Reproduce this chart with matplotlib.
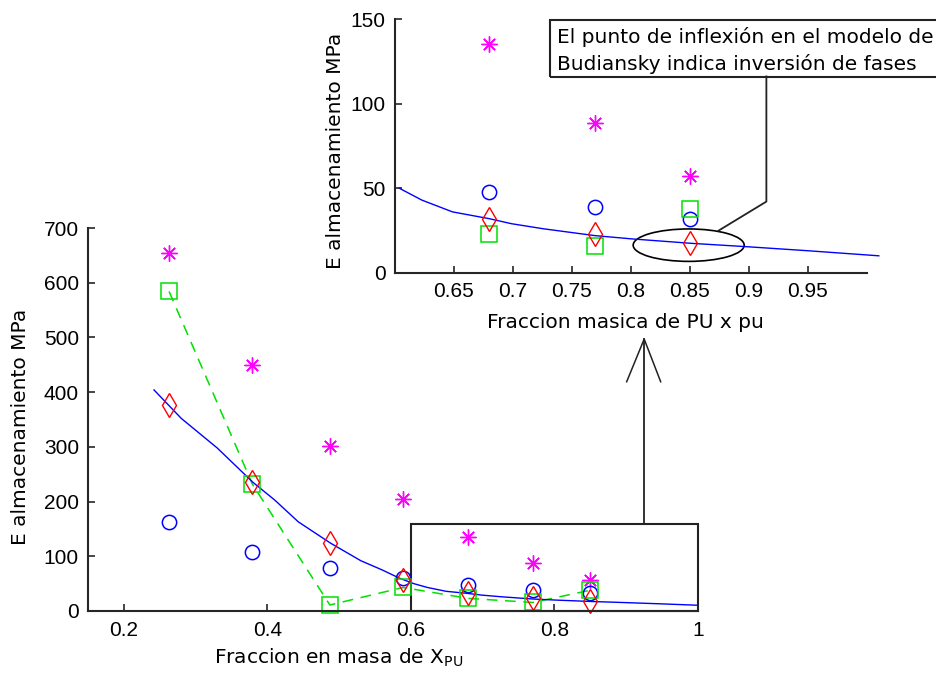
import matplotlib.pyplot as plt
from matplotlib.patches import Rectangle, Ellipse

plt.rcParams['font.family'] = ['DejaVu Sans']

# mass fraction of PU for each sample
x_frac = [0.263, 0.379, 0.487, 0.589, 0.68, 0.77, 0.85]

# storage modulus (MPa) for the different estimates
e_star = [655, 449, 301, 204, 135.5, 88.5, 57.5]
e_circle = [163, 107, 79, 61, 48, 39, 32]
e_square = [584, 232, 11, 43, 23, 15.6, 38]
e_diamond = [377, 236, 124, 57, 32, 23, 17.6]

# Budiansky model curve
model_x = [0.242, 0.28, 0.33, 0.38, 0.41, 0.443, 0.488, 0.53, 0.56, 0.584,
           0.604, 0.623, 0.649, 0.68, 0.699, 0.726, 0.769, 0.801, 0.851,
           0.898, 0.95, 1.01]
model_y = [404, 352, 298, 235, 203, 163, 124, 92, 75, 60,
           50, 43, 36, 32, 29, 26, 22, 20, 17.4,
           15.4, 13, 10]

main_xticks = [0.2, 0.4, 0.6, 0.8, 1.0]
main_xlabels = ['0.2', '0.4', '0.6', '0.8', '1']
main_yticks = [0, 100, 200, 300, 400, 500, 600, 700]
ins_xticks = [0.65, 0.7, 0.75, 0.8, 0.85, 0.9, 0.95]
ins_xlabels = ['0.65', '0.7', '0.75', '0.8', '0.85', '0.9', '0.95']
ins_yticks = [0, 50, 100, 150]

W, H = 937, 677
fig = plt.figure(figsize=(W / 100, H / 100), dpi=100)


def px_box(left, top, right, bottom):
    return [left / W, 1 - bottom / H, (right - left) / W, (bottom - top) / H]


TICK_FONT = dict(fontfamily='Liberation Sans', fontsize=15)
AX_COLOR = '#262626'


def style_axes(a):
    for s in ('top', 'right'):
        a.spines[s].set_visible(False)
    for s in ('left', 'bottom'):
        a.spines[s].set_linewidth(1.5)
        a.spines[s].set_color(AX_COLOR)
    a.tick_params(direction='in', length=5, width=1.2, color=AX_COLOR)
    a.tick_params(axis='x', pad=7.0)
    a.tick_params(axis='y', pad=6.5)
    a.set_facecolor('none')


def draw_points(a, xmin):
    keep = [i for i, x in enumerate(x_frac) if x >= xmin]
    xs = [x_frac[i] for i in keep]
    a.plot(xs, [e_star[i] for i in keep], ls='none', marker=(8, 2, 0),
           ms=11.5, mew=1.0, color='#ff00ff', clip_on=False)
    a.plot(xs, [e_circle[i] for i in keep], ls='none', marker='o', ms=10.3,
           mew=1.1, mfc='none', mec='#0000ff', clip_on=False)
    a.plot(xs, [e_square[i] for i in keep], ls='none', marker='s', ms=11,
           mew=1.1, mfc='none', mec='#00e000', clip_on=False)
    a.plot(xs, [e_diamond[i] for i in keep], ls='none', marker='d', ms=12,
           mew=1.0, mfc='none', mec='#ff0000', clip_on=False)


# ---- main axes
ax = fig.add_axes(px_box(88, 228, 698, 611))
style_axes(ax)
ax.plot(x_frac, e_square, color='#00e000', lw=1.1, dashes=(7, 5))
ax.plot(model_x, model_y, color='#0000ff', lw=1.0)
draw_points(ax, 0.0)
ax.set_xlim(0.15, 1.0)
ax.set_ylim(0, 700)
ax.set_xticks(main_xticks, main_xlabels, **TICK_FONT)
ax.set_yticks(main_yticks, [str(v) for v in main_yticks], **TICK_FONT)
ax.set_xlabel('Fraccion en masa de X$_{\\mathrm{PU}}$', fontsize=14.5)
ax.set_ylabel('E almacenamiento MPa', fontsize=14.5)
ax.xaxis.set_label_coords(0.41, -0.093)
ax.yaxis.set_label_coords(-0.095, 0.48)

# zoom window and arrow pointing to the inset
ax.add_patch(Rectangle((0.6, 0), 0.4, 159, fill=False, ec='#222222',
                       lw=1.5, clip_on=False))
ax.plot([0.925, 0.925], [159, 497], color='#222222', lw=1.3)
ax.plot([0.9006, 0.925, 0.948], [419, 497, 419], color='#222222', lw=1.1)

# ---- inset axes
ins = fig.add_axes(px_box(394.6, 19.3, 867, 272.7))
style_axes(ins)
ins_x = [x for x in model_x if x >= 0.6]
ins_y = [y for x, y in zip(model_x, model_y) if x >= 0.6]
ins.plot(ins_x, ins_y, color='#0000ff', lw=1.0, clip_on=False)
draw_points(ins, 0.6)
ins.set_xlim(0.6, 1.0)
ins.set_ylim(0, 150)
ins.set_xticks(ins_xticks, ins_xlabels, **TICK_FONT)
ins.set_yticks(ins_yticks, [str(v) for v in ins_yticks], **TICK_FONT)
ins.set_xlabel('Fraccion masica de PU x pu', fontsize=14.5)
ins.set_ylabel('E almacenamiento MPa', fontsize=14.5)
ins.xaxis.set_label_coords(0.488, -0.158)
ins.yaxis.set_label_coords(-0.105, 0.48)

ins.add_patch(Ellipse((0.849, 16.3), 0.094, 19.2, fill=False, ec='black',
                      lw=1.2, clip_on=False))
ins.plot([0.9148, 0.9148, 0.8743], [116.2, 42.1, 24.9], color='#222222',
         lw=1.3, clip_on=False)

# annotation box
fig.add_artist(Rectangle((550 / W, 1 - 76.7 / H), (950 - 550) / W,
                         (76.7 - 20) / H, transform=fig.transFigure,
                         fill=False, ec='#222222', lw=1.5))
fig.text(557 / W, 1 - 43 / H, 'El punto de inflexión en el modelo de',
         fontsize=14.5, va='baseline', ha='left')
fig.text(557 / W, 1 - 70 / H, 'Budiansky indica inversión de fases',
         fontsize=14.5, va='baseline', ha='left')

fig.savefig('out.png', dpi=100, facecolor='white')
